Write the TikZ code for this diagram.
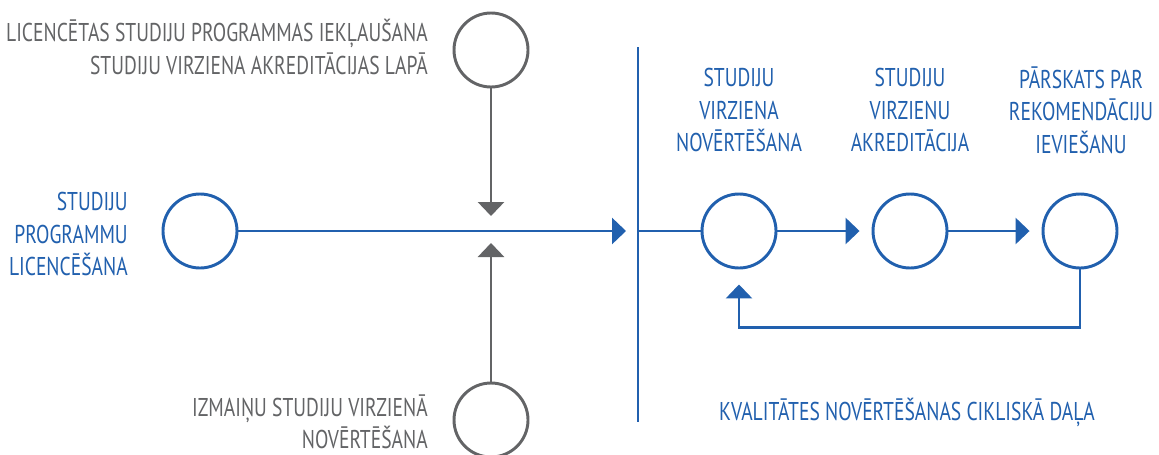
\documentclass[tikz,border=0pt]{standalone}
\usepackage{fontspec}
\setmainfont{PT Sans}[FakeStretch=0.76]
\usetikzlibrary{arrows.meta}
\definecolor{cblue}{HTML}{2160AE}
\definecolor{cgray}{HTML}{636466}
\begin{document}
\begin{tikzpicture}[x=0.75pt,y=-0.75pt,
  circ/.style={circle,draw,line width=2.2pt,minimum size=55.5pt,inner sep=0pt},
  bcirc/.style={circ,draw=cblue},
  gcirc/.style={circ,draw=cgray},
  lbl/.style={inner sep=0pt,font=\fontsize{19.3}{24.4}\selectfont},
  blbl/.style={lbl,text=cblue},
  glbl/.style={lbl,text=cgray},
  bline/.style={draw=cblue,line width=2.2pt},
  gline/.style={draw=cgray,line width=2.2pt},
  tip/.style={-{Triangle[length=10.5pt,width=19.5pt]}}
]
\useasboundingbox (0,0) rectangle (1159,454);
% circles
\node[gcirc] (topg) at (491,50) {};
\node[gcirc] (botg) at (491,420) {};
\node[bcirc] (lic) at (200,231) {};
\node[bcirc] (c1) at (739,231) {};
\node[bcirc] (c2) at (910,231) {};
\node[bcirc] (c3) at (1080,231) {};
% coordinates
\coordinate (cross) at (491,231);
\coordinate (divtop) at (638,47);
\coordinate (divbot) at (638,422);
\coordinate (divmid) at (638,231);
% divider
\draw[bline] (divtop) -- (divbot);
% connectors
\draw[gline,tip,shorten >=11.25pt] (topg) -- (cross);
\draw[gline,tip,shorten >=9pt] (botg) -- (cross);
\draw[bline,tip,shorten >=9pt] (lic) -- (divmid);
\draw[bline] (divmid) -- (c1);
\draw[bline,tip,shorten >=9pt] (c1) -- (c2);
\draw[bline,tip,shorten >=9pt] (c2) -- (c3);
\draw[bline,tip,shorten >=11.25pt] (c3.south) -- ++(0,58) -| (c1.south);
% labels
\node[glbl,align=right,anchor=east] (t1) at (428,47) {LICENCĒTAS STUDIJU PROGRAMMAS IEKĻAUŠANA\\STUDIJU VIRZIENA AKREDITĀCIJAS LAPĀ};
\node[blbl,align=right,anchor=east] (t2) at (128,234) {STUDIJU\\PROGRAMMU\\LICENCĒŠANA};
\node[glbl,align=right,anchor=east] (t3) at (428,422) {IZMAIŅU STUDIJU VIRZIENĀ\\NOVĒRTĒŠANA};
\node[blbl,align=center] (t4) at (739,110) {STUDIJU\\VIRZIENA\\NOVĒRTĒŠANA};
\node[blbl,align=center] (t5) at (910,110) {STUDIJU\\VIRZIENU\\AKREDITĀCIJA};
\node[blbl,align=center] (t6) at (1081,110) {PĀRSKATS PAR\\REKOMENDĀCIJU\\IEVIEŠANU};
\node[blbl] (t7) at (907,412) {KVALITĀTES NOVĒRTĒŠANAS CIKLISKĀ DAĻA};
\end{tikzpicture}
\end{document}
